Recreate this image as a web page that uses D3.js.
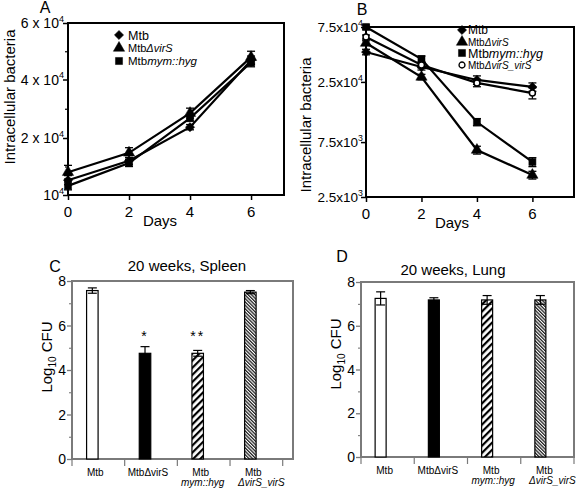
<!DOCTYPE html>
<html><head><meta charset="utf-8">
<script src="https://cdn.jsdelivr.net/npm/d3@7"></script>
<style>body{margin:0;background:#fff}svg{display:block;font-family:"Liberation Sans",Arial,sans-serif}</style>
</head><body><svg id="c" width="576" height="489"></svg>
<script>
// ---------- DATA ----------
const days = [0, 2, 4, 6];
// Panel A (intracellular bacteria)
const seriesA = ["Mtb", "MtbΔvirS", "Mtbmym::hyg"];
const valuesA_Mtb   = [12600, 16000, 23700, 46800];
const valuesA_virS  = [14000, 17400, 28500, 47900];
const valuesA_mym   = [11600, 15600, 26800, 46000];
const errA_Mtb  = [800, 600, 900, 1500];
const errA_virS = [1200, 900, 1700, 2100];
const errA_mym  = [700, 600, 1000, 1500];
const ticksA = [10000, 20000, 40000, 60000];
const tickLabelsA = [["10","4"], ["2 x 10","4"], ["4 x 10","4"], ["6 x 10","4"]];
const minorA = [15000, 30000, 50000];
// Panel B
const seriesB = ["Mtb", "MtbΔvirS", "Mtbmym::hyg", "MtbΔvirS_virS"];
const valuesB_Mtb   = [45500, 33700, 26000, 22600];
const valuesB_virS  = [54400, 27600, 6400, 3880];
const valuesB_mym   = [75000, 39500, 11200, 5040];
const valuesB_comp  = [61400, 35100, 24500, 20000];
const errB_Mtb  = [2500, 2000, 2200, 1900];
const errB_virS = [2500, 1500, 500, 300];
const errB_mym  = [3000, 2500, 800, 450];
const errB_comp = [2500, 2000, 1800, 2200];
const ticksB = [2500, 7500, 25000, 75000];
const tickLabelsB = [["2.5x10","3"], ["7.5x10","3"], ["2.5x10","4"], ["7.5x10","4"]];
// Panels C & D (Log10 CFU at 20 weeks)
const strains = ["Mtb", "MtbΔvirS", "Mtb mym::hyg", "Mtb ΔvirS_virS"];
const spleenCFU = [7.57, 4.75, 4.75, 7.5];
const spleenErr = [0.12, 0.3, 0.13, 0.07];
const lungCFU = [7.25, 7.18, 7.18, 7.18];
const lungErr = [0.3, 0.1, 0.2, 0.2];
const cfuTicks = [0, 2, 4, 6, 8];
const cfuMinor = [1, 3, 5, 7];
const spleenStars = ["", "*", "**", ""];

// ---------- DRAW ----------
const svg = d3.select("#c");
const defs = svg.append("defs");
const p1 = defs.append("pattern").attr("id","hatchA").attr("patternUnits","userSpaceOnUse")
  .attr("width",5).attr("height",5).attr("patternTransform","rotate(45)");
p1.append("rect").attr("width",5).attr("height",5).attr("fill","#fff");
p1.append("rect").attr("width",2.2).attr("height",5).attr("fill","#000");
const p2 = defs.append("pattern").attr("id","hatchB").attr("patternUnits","userSpaceOnUse")
  .attr("width",2.4).attr("height",2.4).attr("patternTransform","rotate(-45)");
p2.append("rect").attr("width",2.4).attr("height",2.4).attr("fill","#fff");
p2.append("rect").attr("width",1.3).attr("height",2.4).attr("fill","#222");

function supText(g, x, y, parts, size, anchor) {
  const t = g.append("text").attr("x", x).attr("y", y).attr("font-size", size)
    .attr("text-anchor", anchor || "end").attr("fill","#000");
  t.append("tspan").text(parts[0]);
  t.append("tspan").attr("dy", -size*0.45).attr("font-size", size*0.65).text(parts[1]);
  return t;
}
function symbolFor(name) {
  if (name === "Mtb") return d3.symbol(d3.symbolSquare, 42);
  if (name === "MtbΔvirS") return d3.symbol(d3.symbolTriangle, 55);
  if (name === "Mtbmym::hyg") return d3.symbol(d3.symbolSquare, 50);
  return d3.symbol(d3.symbolCircle, 28);
}
function rot(name) { return name === "Mtb" ? " rotate(45)" : ""; }
function legendLabel(t, name) {
  if (name === "Mtb") { t.append("tspan").text("Mtb"); }
  else if (name === "MtbΔvirS") { t.append("tspan").text("Mtb"); t.append("tspan").attr("font-style","italic").text("ΔvirS"); }
  else if (name === "Mtbmym::hyg") { t.append("tspan").text("Mtb"); t.append("tspan").attr("font-style","italic").text("mym::hyg"); }
  else { t.append("tspan").text("Mtb"); t.append("tspan").attr("font-style","italic").text("ΔvirS_virS"); }
}

function linePanel(cfg) {
  const g = svg.append("g");
  const x = d3.scaleLinear().domain(cfg.xDomain).range([cfg.left, cfg.right]);
  const y = cfg.y;
  g.append("rect").attr("x",cfg.left).attr("y",cfg.top).attr("width",cfg.right-cfg.left)
    .attr("height",cfg.bottom-cfg.top).attr("fill","none").attr("stroke","#000").attr("stroke-width",2);
  const ya = d3.axisLeft(y).tickValues(cfg.yTicks).tickSize(5).tickFormat("");
  g.append("g").attr("transform",`translate(${cfg.left},0)`).call(ya)
    .call(s=>{s.select(".domain").remove(); s.selectAll("line").attr("stroke","#000").attr("stroke-width",1.5);});
  if (cfg.yMinor) {
    g.append("g").attr("transform",`translate(${cfg.left},0)`)
      .call(d3.axisLeft(y).tickValues(cfg.yMinor).tickSize(3).tickFormat(""))
      .call(s=>{s.select(".domain").remove(); s.selectAll("line").attr("stroke","#000").attr("stroke-width",1.2);});
  }
  cfg.yTicks.forEach((v,i)=> supText(g, cfg.tickLabelX, y(v)+5, cfg.yLabels[i], cfg.tickSize, "end"));
  g.append("g").attr("transform",`translate(0,${cfg.bottom})`)
    .call(d3.axisBottom(x).tickValues(days).tickSize(5).tickFormat(""))
    .call(s=>{s.select(".domain").remove(); s.selectAll("line").attr("stroke","#000").attr("stroke-width",1.5);});
  g.selectAll(".xl").data(days).join("text").attr("x",d=>x(d)).attr("y",cfg.bottom+22)
    .attr("text-anchor","middle").attr("font-size",15).text(d=>d);
  g.append("text").attr("x",cfg.daysX).attr("y",cfg.bottom+31).attr("text-anchor","middle")
    .attr("font-size",15).text("Days");
  g.append("text").attr("transform",`translate(${cfg.yLabX},${cfg.yLabY}) rotate(-90)`)
    .attr("text-anchor","middle").attr("font-size",15).text("Intracellular bacteria");
  g.append("text").attr("x",cfg.letterX).attr("y",cfg.letterY).attr("text-anchor","middle")
    .attr("font-size",16).text(cfg.letter);
  const line = d3.line().x((d,i)=>x(days[i])).y(d=>y(d));
  cfg.series.forEach((name,si)=>{
    const vals = cfg.values[si], errs = cfg.errs[si];
    g.append("path").attr("d", line(vals)).attr("fill","none").attr("stroke","#000").attr("stroke-width",2.2);
    vals.forEach((v,i)=>{
      const cx = x(days[i]);
      g.append("line").attr("x1",cx).attr("x2",cx).attr("y1",y(v+errs[i])).attr("y2",y(v-errs[i]))
        .attr("stroke","#000").attr("stroke-width",1.3);
      [v+errs[i], v-errs[i]].forEach(e=> g.append("line").attr("x1",cx-4).attr("x2",cx+4)
        .attr("y1",y(e)).attr("y2",y(e)).attr("stroke","#000").attr("stroke-width",1.3));
    });
    g.selectAll(null).data(vals).join("path")
      .attr("transform",(d,i)=>`translate(${x(days[i])},${y(d)})${rot(name)}`)
      .attr("d", symbolFor(name)())
      .attr("fill", name==="MtbΔvirS_virS" ? "#fff" : "#000")
      .attr("stroke","#000").attr("stroke-width", name==="MtbΔvirS_virS" ? 1.5 : 0.5);
  });
  cfg.series.forEach((name,si)=>{
    const ly = cfg.legY[si];
    g.append("path").attr("transform",`translate(${cfg.legSymX},${ly})${rot(name)}`).attr("d",symbolFor(name)())
      .attr("fill", name==="MtbΔvirS_virS" ? "#fff" : "#000").attr("stroke","#000")
      .attr("stroke-width", name==="MtbΔvirS_virS" ? 1.3 : 0.5);
    const t = g.append("text").attr("x",cfg.legTextX).attr("y",ly+ cfg.legSize[si]*0.36)
      .attr("font-size",cfg.legSize[si]);
    legendLabel(t, name);
  });
}

linePanel({
  left:68, right:284, top:23, bottom:195, xDomain:[0,7.08],
  y: d3.scaleLinear().domain(ticksA).range([195,138,79.5,23]),
  yTicks: ticksA, yLabels: tickLabelsA, yMinor: minorA, tickLabelX: 64, tickSize:14,
  series: seriesA, values:[valuesA_Mtb, valuesA_virS, valuesA_mym], errs:[errA_Mtb, errA_virS, errA_mym],
  daysX:160, yLabX:15, yLabY:97, letter:"A", letterX:45, letterY:13,
  legSymX:119, legTextX:128, legY:[35,48,61], legSize:[12.5,11,11.5]
});
linePanel({
  left:366, right:574, top:27, bottom:197, xDomain:[0,7.5],
  y: d3.scaleLog().domain([2500,75000]).range([197,27]),
  yTicks: ticksB, yLabels: tickLabelsB, yMinor: null, tickLabelX: 363, tickSize:13.5,
  series: seriesB, values:[valuesB_Mtb, valuesB_virS, valuesB_mym, valuesB_comp],
  errs:[errB_Mtb, errB_virS, errB_mym, errB_comp],
  daysX:452, yLabX:311, yLabY:125, letter:"B", letterX:362, letterY:15,
  legSymX:462, legTextX:468, legY:[30,42,53,65], legSize:[12,10,12.5,10]
});

function barPanel(cfg) {
  const g = svg.append("g");
  const y = d3.scaleLinear().domain([0,8]).range([cfg.bottom, cfg.top]);
  const x = d3.scaleBand().domain(strains).range([cfg.left, cfg.right]).paddingInner(0).paddingOuter(0);
  const gray = "#7a7a7a";
  g.append("path").attr("d",`M${cfg.left},${cfg.bottom}V${cfg.top}H${cfg.frameRight}V${cfg.bottom}H${cfg.left}`)
    .attr("fill","none").attr("stroke",gray).attr("stroke-width",2);
  g.append("g").attr("transform",`translate(${cfg.left},0)`)
    .call(d3.axisLeft(y).tickValues(cfuTicks).tickSize(5).tickFormat(""))
    .call(s=>{s.select(".domain").remove(); s.selectAll("line").attr("stroke",gray).attr("stroke-width",1.3);});
  g.append("g").attr("transform",`translate(${cfg.left},0)`)
    .call(d3.axisLeft(y).tickValues(cfuMinor).tickSize(3).tickFormat(""))
    .call(s=>{s.select(".domain").remove(); s.selectAll("line").attr("stroke",gray).attr("stroke-width",1.1);});
  g.selectAll(".yl").data(cfuTicks).join("text").attr("x",cfg.left-6).attr("y",d=>y(d)+5)
    .attr("text-anchor","end").attr("font-size",14).text(d=>d);
  const seps = strains.map(s=>x(s)+cfg.sepOff).concat([x(strains[3])+x.step()+cfg.sepOff]);
  g.selectAll(".sep").data(seps).join("line").attr("x1",d=>d).attr("x2",d=>d)
    .attr("y1",cfg.bottom).attr("y2",cfg.bottom+7).attr("stroke",gray).attr("stroke-width",1.2);
  const fills = ["#fff","#000","url(#hatchA)","url(#hatchB)"];
  const bw = cfg.barW;
  strains.forEach((s,i)=>{
    const cx = x(s) + x.bandwidth()/2 + cfg.barOff;
    const v = cfg.vals[i], e = cfg.errs[i];
    g.append("rect").attr("x",cx-bw/2).attr("y",y(v)).attr("width",bw).attr("height",y(0)-y(v))
      .attr("fill",fills[i]).attr("stroke","#000").attr("stroke-width",1.2);
    g.append("line").attr("x1",cx).attr("x2",cx).attr("y1",y(v+e)).attr("y2",y(v-e)).attr("stroke","#000").attr("stroke-width",1.2);
    [v+e, v-e].forEach(t=> g.append("line").attr("x1",cx-4.5).attr("x2",cx+4.5).attr("y1",y(t)).attr("y2",y(t))
      .attr("stroke","#000").attr("stroke-width",1.2));
    if (cfg.stars && cfg.stars[i]) g.append("text").attr("x",cx).attr("y",y(6)+15).attr("text-anchor","middle")
      .attr("font-size",14).attr("letter-spacing",2).text(cfg.stars[i]);
    const lx = cx + cfg.labOff;
    const t1 = g.append("text").attr("x",lx).attr("y",cfg.bottom+17).attr("text-anchor","middle").attr("font-size",10);
    if (i===0) t1.text("Mtb");
    else if (i===1) t1.text("MtbΔvirS");
    else {
      t1.text("Mtb");
      g.append("text").attr("x", lx + (i===3 ? 8 : 2)).attr("y",cfg.bottom+27).attr("text-anchor","middle")
        .attr("font-size",10).attr("font-style","italic").text(i===2 ? "mym::hyg" : "ΔvirS_virS");
    }
  });
  const tt = g.append("text").attr("transform",`translate(${cfg.yLabX},${cfg.yLabY}) rotate(-90)`)
    .attr("text-anchor","middle").attr("font-size",15);
  tt.append("tspan").text("Log");
  tt.append("tspan").attr("font-size",10).attr("dy",4).text("10");
  tt.append("tspan").attr("dy",-4).text(" CFU");
  g.append("text").attr("x",cfg.titleX).attr("y",cfg.titleY).attr("text-anchor","middle").attr("font-size",15).text(cfg.title);
  g.append("text").attr("x",cfg.letterX).attr("y",cfg.letterY).attr("text-anchor","middle").attr("font-size",16).text(cfg.letter);
}

barPanel({
  left:72, right:282.7, frameRight:293, top:281, bottom:459, vals:spleenCFU, errs:spleenErr, stars:spleenStars,
  barW:11.5, barOff:-6, sepOff:0, labOff:3, yLabX:52, yLabY:357,
  title:"20 weeks, Spleen", titleX:187, titleY:271, letter:"C", letterX:55, letterY:272
});
barPanel({
  left:361, right:574, frameRight:574, top:282, bottom:457, vals:lungCFU, errs:lungErr, stars:null,
  barW:11, barOff:-7, sepOff:0, labOff:4, yLabX:341, yLabY:354,
  title:"20 weeks, Lung", titleX:453, titleY:275, letter:"D", letterX:342, letterY:262
});
</script></body></html>
